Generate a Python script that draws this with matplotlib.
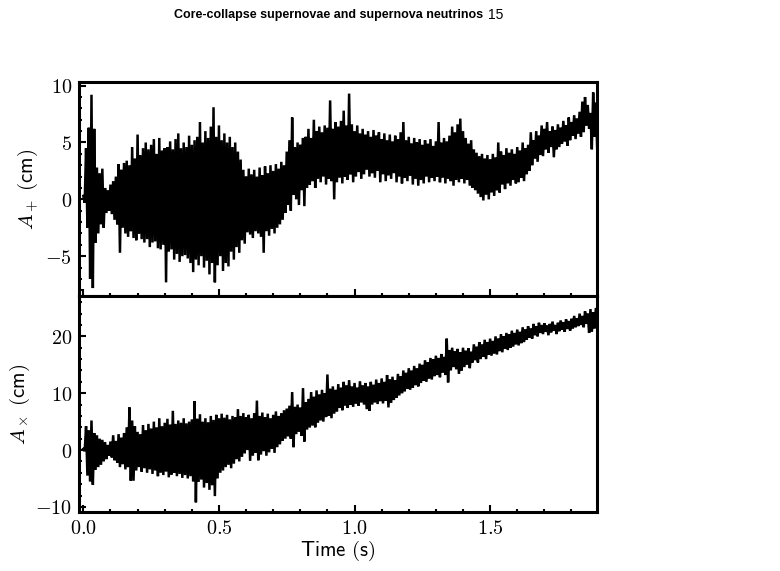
import numpy as np
import matplotlib
matplotlib.use("Agg")
import matplotlib.pyplot as plt
from matplotlib.ticker import MultipleLocator, FuncFormatter

plt.rcParams['mathtext.fontset'] = 'cm'

# time grid (s), one sample every 0.01 s
time = np.round(np.arange(0, 190) * 0.01, 2)

# A_+ (cm): upper / lower edge of the noisy trace
plus_hi = [
    0.3, 4.5, 6.3, 9.2, 6.2, 2.8, 2.3, 2.7, 1.0, 0.8,
    1.3, 1.6, 2.0, 3.1, 2.6, 3.2, 3.4, 3.0, 4.6, 3.6,
    5.7, 3.9, 4.5, 5.0, 4.4, 4.8, 5.3, 4.0, 5.4, 4.3,
    4.5, 4.6, 5.1, 4.4, 5.3, 5.8, 4.5, 5.0, 4.6, 5.6,
    4.8, 5.2, 5.5, 6.8, 5.0, 6.0, 5.4, 6.4, 8.1, 5.5,
    6.5, 5.2, 5.8, 5.0, 5.5, 4.6, 5.0, 4.2, 3.5, 2.6,
    2.0, 2.7, 2.2, 2.6, 2.0, 2.8, 2.1, 2.9, 2.3, 3.0,
    2.5, 3.1, 2.7, 3.3, 3.0, 4.2, 5.2, 7.2, 4.6, 5.0,
    4.8, 5.4, 5.5, 6.2, 5.4, 7.0, 6.0, 6.4, 5.9, 6.5,
    6.3, 8.7, 6.2, 6.8, 6.4, 6.9, 7.8, 6.5, 9.3, 6.6,
    6.0, 6.5, 5.8, 6.2, 5.7, 6.0, 5.5, 6.1, 5.6, 5.9,
    5.3, 5.8, 5.2, 5.7, 5.1, 5.6, 5.3, 5.9, 6.8, 5.2,
    5.5, 4.9, 5.4, 5.0, 5.3, 4.8, 5.2, 4.9, 5.3, 4.7,
    5.1, 6.8, 5.0, 5.4, 5.1, 5.6, 6.4, 5.9, 6.6, 7.1,
    6.0, 5.4, 4.9, 5.2, 4.4, 4.1, 3.8, 4.0, 3.6, 3.9,
    3.5, 4.0, 3.7, 5.0, 4.2, 3.9, 4.5, 4.1, 4.4, 4.0,
    4.6, 4.3, 5.0, 4.5, 4.8, 5.9, 5.2, 6.0, 5.6, 6.5,
    6.2, 6.8, 6.0, 6.4, 6.1, 6.6, 6.3, 6.9, 6.5, 7.2,
    6.8, 7.4, 7.1, 7.7, 8.6, 9.0, 8.3, 7.6, 9.4, 8.5,
]
plus_lo = [
    -0.3, -2.5, -7.0, -7.8, -3.8, -3.0, -2.2, -2.5, -1.2, -1.0,
    -1.3, -1.8, -2.2, -4.7, -2.5, -3.0, -3.3, -2.8, -3.4, -3.6,
    -3.0, -3.5, -3.8, -3.5, -4.2, -3.8, -3.7, -4.3, -4.4, -4.0,
    -7.3, -4.6, -4.4, -5.3, -4.8, -5.5, -5.0, -4.9, -5.2, -5.6,
    -6.4, -5.3, -5.8, -5.0, -6.0, -5.4, -6.6, -5.6, -7.3, -5.8,
    -5.0, -6.3, -5.6, -5.9, -4.6, -5.3, -4.2, -4.7, -3.6, -3.9,
    -2.9, -3.1, -3.4, -2.8, -3.0, -3.3, -4.7, -2.8, -3.2, -2.6,
    -3.0, -2.5, -2.2, -1.8, -1.2, -0.5, -1.0, 0.4, 0.0, -0.5,
    0.8, -0.6, 1.0, 1.3, 1.6, 1.0, 1.8, 1.5, 2.0, 1.3,
    1.8, 1.6, 0.0, 1.5, 1.9, 1.4, 2.0, 1.7, 2.2, 1.5,
    2.0, 2.4, 1.8, 2.2, 2.6, 2.0, 2.3, 1.9, 2.5, 1.5,
    2.2, 1.6, 2.1, 1.8, 2.3, 1.5, 2.0, 1.4, 1.9, 1.6,
    2.1, 1.3, 1.8, 1.2, 1.7, 1.4, 2.0, 1.5, 1.9, 1.6,
    2.0, 1.5, 1.9, 1.4, 1.8, 1.6, 1.2, 1.7, 1.5, 1.8,
    1.4, 1.7, 1.2, 1.0, 0.8, 0.5, 0.2, -0.1, 0.4, 0.0,
    0.6, 0.3, 0.8, 0.6, 1.3, 0.9, 1.4, 1.2, 1.7, 1.4,
    1.5, 1.9, 1.6, 2.2, 2.5, 3.0, 3.6, 3.3, 3.9, 3.8,
    4.4, 4.1, 4.6, 3.7, 4.4, 4.6, 4.9, 5.1, 4.7, 5.2,
    5.6, 5.3, 5.8, 5.5, 5.9, 6.5, 6.2, 4.4, 5.5, 4.3,
]

# A_x (cm): upper / lower edge of the noisy trace
cross_hi = [
    0.2, 4.2, 3.5, 5.2, 3.0, 2.6, 2.0, 1.8, 1.4, 0.9,
    1.5, 2.6, 1.6, 2.8, 2.2, 3.0, 4.0, 7.5, 5.2, 4.2,
    3.2, 2.8, 4.4, 3.5, 4.6, 3.8, 5.0, 4.0, 5.6, 4.2,
    4.8, 5.5, 4.5, 6.9, 4.6, 5.2, 4.8, 5.6, 4.7, 5.0,
    5.4, 8.6, 5.5, 6.3, 5.0, 5.6, 4.9, 6.0, 5.3, 6.2,
    5.6, 6.4, 5.7, 6.2, 5.4, 6.0, 5.8, 7.2, 6.0, 6.5,
    5.8, 6.2, 5.6, 6.5, 8.7, 6.0, 6.6, 5.8, 6.4, 5.6,
    6.2, 6.8, 6.0, 6.5, 7.0, 7.3, 7.8, 10.2, 7.6, 8.0,
    7.5, 10.9, 8.4, 9.0, 10.2, 9.4, 10.5, 9.8, 10.6, 10.0,
    13.3, 10.8, 11.2, 10.6, 11.6, 11.0, 12.0, 11.4, 12.3, 11.2,
    11.8, 11.0, 12.1, 11.4, 11.8, 11.2, 12.0, 11.5, 12.4, 11.8,
    12.6, 12.0, 13.2, 12.4, 12.9, 12.3, 13.4, 13.0, 14.0, 13.6,
    14.4, 14.0, 14.8, 14.4, 15.2, 15.0, 15.8, 15.4, 16.2, 16.0,
    16.6, 16.2, 16.9, 16.4, 19.6, 17.6, 18.0, 17.4, 17.8, 17.2,
    18.0, 17.5, 17.9, 17.3, 18.6, 18.2, 19.0, 18.6, 19.4, 19.0,
    19.6, 19.2, 20.0, 19.6, 20.4, 20.0, 20.6, 20.4, 21.0, 20.6,
    21.2, 20.8, 21.6, 21.2, 21.8, 21.4, 22.2, 21.8, 22.4, 22.0,
    22.3, 21.9, 22.2, 22.6, 22.0, 22.4, 22.8, 22.5, 23.0, 22.7,
    23.1, 23.6, 23.2, 24.0, 23.6, 24.4, 24.0, 24.8, 24.2, 25.0,
]
cross_lo = [
    -0.2, -4.5, -5.5, -6.1, -3.5, -3.0, -2.6, -2.0, -1.6, -1.0,
    -1.3, -1.8, -2.2, -3.0, -2.5, -3.4, -3.0, -5.4, -5.4, -3.6,
    -3.0, -3.8, -3.2, -4.0, -3.4, -4.2, -3.6, -4.6, -4.0, -4.4,
    -3.8, -4.8, -4.3, -4.0, -4.6, -4.2, -4.9, -4.4, -5.0, -4.6,
    -5.5, -9.2, -5.6, -5.2, -6.6, -5.8, -7.0, -6.2, -8.1, -5.0,
    -4.0, -3.6, -3.0, -2.6, -3.2, -2.4, -1.6, -2.0, -1.2, -0.6,
    0.0, -1.9, -1.0, -0.5, -1.8, -0.8, -0.2, -1.0, -0.4, 0.2,
    -0.5, 0.5, 1.0, 1.6, 2.0, 2.4, 2.0, 0.5, 2.8, 3.2,
    2.5, 1.5, 3.6, 4.0, 4.3, 4.0, 4.8, 5.2, 5.0, 5.8,
    6.0, 5.6, 6.4, 6.8, 7.4, 7.0, 7.8, 7.4, 8.0, 7.6,
    8.2, 7.8, 8.4, 8.0, 7.2, 6.9, 8.0, 8.4, 8.1, 8.6,
    8.2, 8.7, 7.5, 8.3, 8.8, 9.2, 9.6, 10.0, 10.3, 10.8,
    10.6, 11.0, 11.4, 11.2, 11.8, 12.2, 12.0, 12.6, 12.4, 13.0,
    13.2, 12.8, 13.6, 13.2, 11.9, 14.0, 14.6, 14.2, 13.4, 14.0,
    14.6, 15.0, 14.4, 15.4, 15.8, 15.4, 16.0, 16.4, 16.0, 16.8,
    16.6, 17.0, 16.8, 17.4, 17.2, 17.8, 17.6, 18.0, 18.2, 18.6,
    18.4, 18.8, 19.0, 19.4, 19.8, 19.6, 20.2, 20.0, 20.6, 20.4,
    20.8, 20.2, 20.7, 21.0, 20.4, 20.9, 21.2, 20.8, 21.3, 21.0,
    21.4, 21.6, 21.8, 22.0, 21.6, 22.2, 20.6, 20.8, 21.4, 21.8,
]


def zigzag(t, hi, lo):
    # alternate top and bottom edge so the trace reads as a noisy line
    tt = np.column_stack([t, t + 0.005]).ravel()
    yy = np.column_stack([hi, lo]).ravel()
    return tt, yy


fig = plt.figure(figsize=(7.8, 5.71), dpi=100)
ax1 = fig.add_axes([0.1013, 0.4816, 0.6637, 0.3744])
ax2 = fig.add_axes([0.1013, 0.1033, 0.6637, 0.3783], sharex=ax1)

for ax, hi, lo in [(ax1, plus_hi, plus_lo), (ax2, cross_hi, cross_lo)]:
    tt, yy = zigzag(time, hi, lo)
    ax.plot(tt, yy, color='black', lw=1.8, solid_joinstyle='miter')
    for s in ax.spines.values():
        s.set_linewidth(2.2)
    ax.tick_params(which='both', direction='in', labelsize=14.5, width=1.5, pad=5)
    ax.tick_params(which='major', length=5)
    ax.tick_params(which='minor', length=2.5)
    ax.xaxis.set_major_locator(MultipleLocator(0.5))
    ax.xaxis.set_minor_locator(MultipleLocator(0.1))
    ax.yaxis.set_major_formatter(FuncFormatter(lambda v, p: r'$%g$' % v))

ax1.set_xlim(-0.016, 1.893)
ax1.set_ylim(-8.5, 10.3)
ax1.yaxis.set_major_locator(MultipleLocator(5))
ax1.yaxis.set_minor_locator(MultipleLocator(1))
ax1.tick_params(labelbottom=False)

ax2.set_ylim(-10.9, 27.1)
ax2.yaxis.set_major_locator(MultipleLocator(10))
ax2.yaxis.set_minor_locator(MultipleLocator(2))
ax2.xaxis.set_major_formatter(FuncFormatter(lambda v, p: r'$%.1f$' % v))

ax1.set_ylabel(r'$A_+\ \mathsf{(cm)}$', fontsize=15)
ax2.set_ylabel(r'$A_\times\ \mathsf{(cm)}$', fontsize=15)
ax1.yaxis.set_label_coords(-0.075, 0.5)
ax2.yaxis.set_label_coords(-0.090, 0.5)
ax2.set_xlabel(r'$\mathsf{Time\ (s)}$', fontsize=15, labelpad=1)

fig.text(0.62, 0.973, 'Core-collapse supernovae and supernova neutrinos',
         ha='right', va='center', fontsize=9.0, fontweight='bold',
         family='Liberation Sans')
fig.text(0.626, 0.973, '15', ha='left', va='center', fontsize=10,
         family='Liberation Sans')

fig.savefig('out.png', dpi=100)
